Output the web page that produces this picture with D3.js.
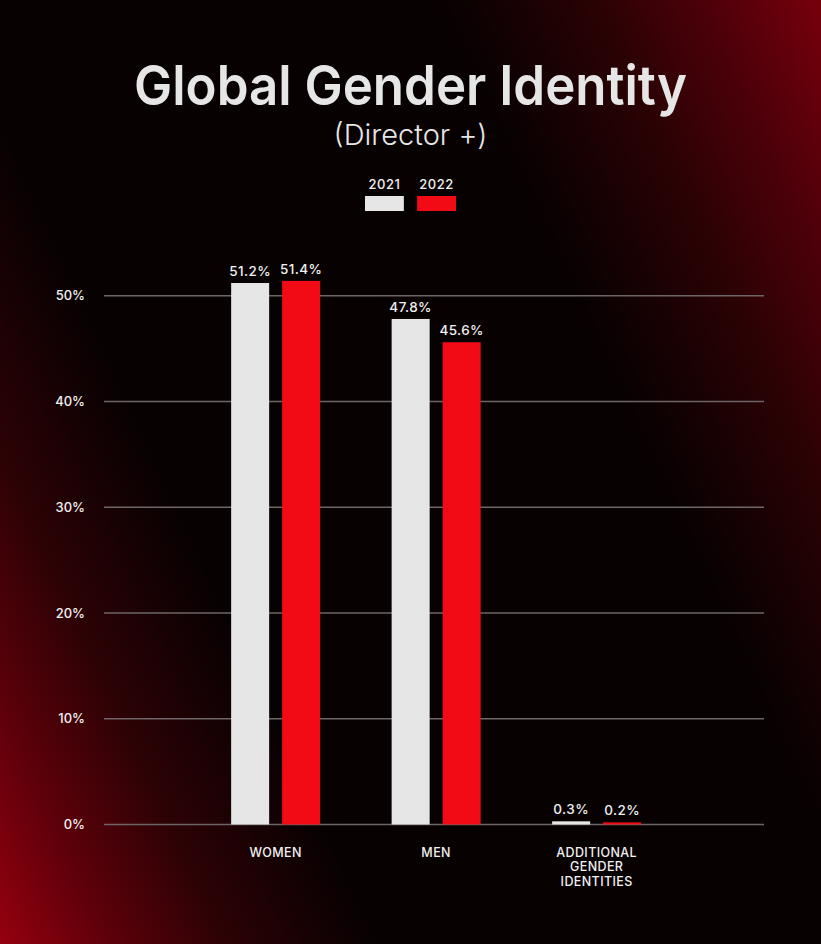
<!DOCTYPE html>
<html>
<head>
<meta charset="utf-8">
<script src="https://cdn.jsdelivr.net/npm/d3@7"></script>
<style>
  html, body { margin: 0; padding: 0; background: #050001; }
  svg { display: block; font-family: Inter, "Noto Sans", sans-serif; }
</style>
</head>
<body>
<div id="chart"></div>
<script>
// data
const categories = ["WOMEN", "MEN", "ADDITIONAL GENDER IDENTITIES"];
const years = ["2021", "2022"];
const values2021 = [51.2, 47.8, 0.3];
const values2022 = [51.4, 45.6, 0.2];
const yTicks = [0, 10, 20, 30, 40, 50];

const width = 821;
const height = 944;
const colors = { "2021": "#e6e6e6", "2022": "#f20a14" };

const svg = d3.select("#chart")
    .append("svg")
    .attr("width", width)
    .attr("height", height);

// background: red glow bottom-left and top-right
const grad = svg.append("defs")
    .append("linearGradient")
    .attr("id", "bg")
    .attr("gradientUnits", "userSpaceOnUse")
    .attr("x1", -107).attr("y1", 710)
    .attr("x2", 928).attr("y2", 234);
[
    [0, "#95000f"], [0.08, "#62000a"], [0.18, "#2c0205"], [0.3, "#080102"],
    [0.7, "#080102"], [0.82, "#2a0204"], [0.92, "#52000a"], [1, "#76000a"]
].forEach(([o, c]) => grad.append("stop").attr("offset", o).attr("stop-color", c));

svg.append("rect")
    .attr("width", width)
    .attr("height", height)
    .attr("fill", "url(#bg)");

// title
svg.append("text")
    .attr("x", width / 2)
    .attr("y", 105)
    .attr("text-anchor", "middle")
    .attr("fill", "#e6e6e6")
    .attr("font-size", 55)
    .attr("font-weight", 600)
    .attr("textLength", 553)
    .attr("lengthAdjust", "spacingAndGlyphs")
    .text("Global Gender Identity");

svg.append("text")
    .attr("x", width / 2)
    .attr("y", 145)
    .attr("text-anchor", "middle")
    .attr("fill", "#e6e6e6")
    .attr("font-size", 29)
    .attr("font-weight", 300)
    .text("(Director +)");

// legend
const legendX = d3.scaleBand().domain(years).range([365, 456]).paddingInner(0.255);
const legend = svg.append("g").attr("class", "legend");
legend.selectAll("rect")
    .data(years)
    .enter()
    .append("rect")
    .attr("x", d => legendX(d))
    .attr("y", 196)
    .attr("width", legendX.bandwidth())
    .attr("height", 15)
    .attr("fill", d => colors[d]);
legend.selectAll("text")
    .data(years)
    .enter()
    .append("text")
    .attr("x", d => legendX(d) + legendX.bandwidth() / 2)
    .attr("y", 189)
    .attr("text-anchor", "middle")
    .attr("fill", "#f0f0f0")
    .attr("font-size", 13)
    .attr("font-weight", 500)
    .attr("letter-spacing", 0.5)
    .text(d => d);

// scales
const y = d3.scaleLinear().domain([0, 50]).range([824.5, 295.7]);
const x0 = d3.scaleBand().domain(categories).range([195.4, 676.9]);
const x1 = d3.scaleBand().domain(years).range([-44.5, 44.5]).paddingInner(0.255);

// grid + y labels
const gridLeft = 104, gridRight = 764;
const yAxis = svg.append("g").attr("class", "y-axis");
yAxis.selectAll("line")
    .data(yTicks)
    .enter()
    .append("line")
    .attr("x1", gridLeft)
    .attr("x2", gridRight)
    .attr("y1", d => y(d))
    .attr("y2", d => y(d))
    .attr("stroke", "#6e6666")
    .attr("stroke-width", 1.5);
yAxis.selectAll("text")
    .data(yTicks)
    .enter()
    .append("text")
    .attr("x", 85)
    .attr("y", d => y(d))
    .attr("dy", "0.36em")
    .attr("text-anchor", "end")
    .attr("fill", "#f0f0f0")
    .attr("font-size", 13)
    .attr("font-weight", 500)
    .text(d => d + "%");

// bars
const rows = categories.map((c, i) => ({
    category: c,
    bars: [
        { year: "2021", value: values2021[i] },
        { year: "2022", value: values2022[i] }
    ]
}));

const groups = svg.selectAll("g.group")
    .data(rows)
    .enter()
    .append("g")
    .attr("class", "group")
    .attr("transform", d => `translate(${x0(d.category) + x0.bandwidth() / 2},0)`);

groups.selectAll("rect")
    .data(d => d.bars)
    .enter()
    .append("rect")
    .attr("x", d => x1(d.year))
    .attr("y", d => y(d.value))
    .attr("width", x1.bandwidth())
    .attr("height", d => y(0) - y(d.value))
    .attr("fill", d => colors[d.year]);

groups.selectAll("text.value")
    .data(d => d.bars)
    .enter()
    .append("text")
    .attr("class", "value")
    .attr("x", d => x1(d.year) + x1.bandwidth() / 2)
    .attr("y", d => y(d.value) - 7)
    .attr("text-anchor", "middle")
    .attr("fill", "#f0f0f0")
    .attr("font-size", 13.5)
    .attr("font-weight", 500)
    .attr("letter-spacing", 0.4)
    .text(d => d.value.toFixed(1) + "%");

// category labels, wrapped by word
groups.append("text")
    .attr("class", "cat")
    .attr("text-anchor", "middle")
    .attr("fill", "#f0f0f0")
    .attr("font-size", 12.5)
    .attr("font-weight", 500)
    .attr("letter-spacing", 0.4)
    .selectAll("tspan")
    .data(d => d.category.split(" "))
    .enter()
    .append("tspan")
    .attr("x", 0)
    .attr("y", (d, i) => 857 + i * 14.3)
    .text(d => d);
</script>
</body>
</html>
